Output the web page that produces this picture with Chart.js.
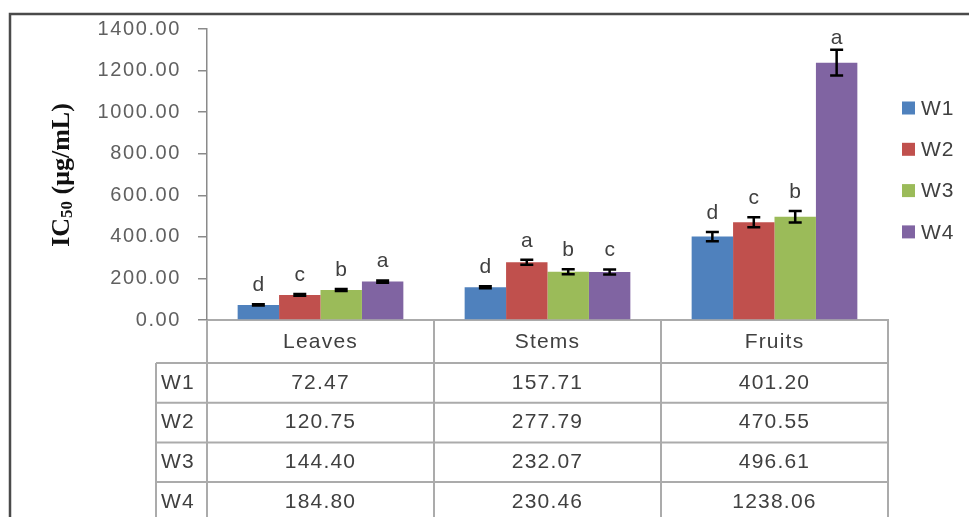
<!DOCTYPE html>
<html>
<head>
<meta charset="utf-8">
<script src="https://cdn.jsdelivr.net/npm/chart.js@4.4.0/dist/chart.umd.min.js"></script>
<style>
  html, body { margin: 0; padding: 0; background: #fff; }
  #wrap { position: relative; width: 969px; height: 517px; }
</style>
</head>
<body>
<div id="wrap"><canvas id="chartIC50" width="969" height="517"></canvas></div>
<script>
// Dados
const categorias = ["Leaves", "Stems", "Fruits"];
const series = ["W1", "W2", "W3", "W4"];
const valoresW1 = [72.47, 157.71, 401.2];
const valoresW2 = [120.75, 277.79, 470.55];
const valoresW3 = [144.4, 232.07, 496.61];
const valoresW4 = [184.8, 230.46, 1238.06];
const textosW1 = ["72.47", "157.71", "401.20"];
const textosW2 = ["120.75", "277.79", "470.55"];
const textosW3 = ["144.40", "232.07", "496.61"];
const textosW4 = ["184.80", "230.46", "1238.06"];
const errosW1 = [3, 5, 22];
const errosW2 = [4, 12, 24];
const errosW3 = [5, 12, 28];
const errosW4 = [5, 12, 62];
const letrasW1 = ["d", "d", "d"];
const letrasW2 = ["c", "a", "c"];
const letrasW3 = ["b", "b", "b"];
const letrasW4 = ["a", "c", "a"];
const ticksY = [0, 200, 400, 600, 800, 1000, 1200, 1400];

const valores = [valoresW1, valoresW2, valoresW3, valoresW4];
const textos = [textosW1, textosW2, textosW3, textosW4];
const erros = [errosW1, errosW2, errosW3, errosW4];
const letras = [letrasW1, letrasW2, letrasW3, letrasW4];
const cores = ["#4F81BD", "#C0504D", "#9BBB59", "#8064A2"];

const fonte = "'Liberation Sans', Arial, sans-serif";
const corTexto = "#404040";
const corLinha = "#ababab";

// Espaçamento das letras dos ticks (o original é mais largo)
const pluginEspaco = {
  id: "espaco",
  beforeDraw(chart) {
    chart.ctx.letterSpacing = "1.6px";
  },
  beforeDatasetsDraw(chart) {
    chart.ctx.letterSpacing = "0px";
  },
};

// Barras de erro + letras de significância
const pluginErros = {
  id: "erros",
  afterDatasetsDraw(chart) {
    const ctx = chart.ctx;
    const y = chart.scales.y;
    ctx.save();
    ctx.letterSpacing = "0px";
    valores.forEach((serie, i) => {
      const meta = chart.getDatasetMeta(i);
      meta.data.forEach((bar, j) => {
        const topo = y.getPixelForValue(serie[j] + erros[i][j]);
        const base = y.getPixelForValue(serie[j] - erros[i][j]);
        ctx.strokeStyle = "#000";
        ctx.lineWidth = 2.5;
        ctx.beginPath();
        ctx.moveTo(bar.x, topo);
        ctx.lineTo(bar.x, base);
        ctx.moveTo(bar.x - 6.5, topo);
        ctx.lineTo(bar.x + 6.5, topo);
        ctx.moveTo(bar.x - 6.5, base);
        ctx.lineTo(bar.x + 6.5, base);
        ctx.stroke();

        ctx.fillStyle = corTexto;
        ctx.font = "21px " + fonte;
        ctx.textAlign = "center";
        ctx.textBaseline = "middle";
        const yl = Math.max(topo - 19, chart.chartArea.top + 9);
        ctx.fillText(letras[i][j], bar.x, yl);
      });
    });
    ctx.restore();
  },
};

// Moldura, título do eixo, legenda e tabela de dados
const pluginExtras = {
  id: "extras",
  afterDraw(chart) {
    const ctx = chart.ctx;
    const area = chart.chartArea;
    const x = chart.scales.x;
    ctx.save();
    ctx.letterSpacing = "0px";

    // moldura
    ctx.strokeStyle = "#4a4a4a";
    ctx.lineWidth = 2.5;
    ctx.beginPath();
    ctx.moveTo(10, 517);
    ctx.lineTo(10, 14);
    ctx.lineTo(969, 14);
    ctx.stroke();

    // título do eixo Y: IC50 (µg/mL)
    ctx.translate(62, 175);
    ctx.rotate(-Math.PI / 2);
    ctx.fillStyle = "#111";
    ctx.textBaseline = "middle";
    ctx.textAlign = "left";
    const fTit = "bold 26px 'Liberation Serif', 'Times New Roman', serif";
    const fSub = "bold 17px 'Liberation Serif', 'Times New Roman', serif";
    ctx.font = fTit;
    const w1 = ctx.measureText("IC").width;
    ctx.font = fSub;
    const w2 = ctx.measureText("50").width;
    ctx.font = fTit;
    const w3 = ctx.measureText(" (μg/mL)").width;
    let px = -(w1 + w2 + w3) / 2;
    ctx.fillText("IC", px, 0);
    px += w1;
    ctx.font = fSub;
    ctx.fillText("50", px, 6);
    px += w2;
    ctx.font = fTit;
    ctx.fillText(" (μg/mL)", px, 0);
    ctx.setTransform(1, 0, 0, 1, 0, 0);

    // legenda
    ctx.font = "21px " + fonte;
    ctx.letterSpacing = "1px";
    ctx.textAlign = "left";
    ctx.textBaseline = "middle";
    series.forEach((s, i) => {
      const yc = 108 + i * 41.3;
      ctx.fillStyle = cores[i];
      ctx.fillRect(902, yc - 6.5, 13, 13);
      ctx.fillStyle = corTexto;
      ctx.fillText(s, 921, yc + 1);
    });

    // tabela
    const larg = x.width / categorias.length;
    const topoLinhas = area.bottom + 43;
    const altLinha = 39.7;
    const esq = 156;
    ctx.strokeStyle = corLinha;
    ctx.lineWidth = 2;
    ctx.beginPath();
    for (let k = 0; k <= categorias.length; k++) {
      const xv = area.left + k * larg;
      ctx.moveTo(xv, area.bottom);
      ctx.lineTo(xv, 517);
    }
    ctx.moveTo(esq, topoLinhas);
    ctx.lineTo(esq, 517);
    for (let r = 0; r < series.length; r++) {
      const yr = topoLinhas + r * altLinha;
      ctx.moveTo(esq, yr);
      ctx.lineTo(area.right, yr);
    }
    ctx.stroke();

    ctx.fillStyle = corTexto;
    ctx.font = "21px " + fonte;
    ctx.letterSpacing = "1.2px";
    ctx.textAlign = "center";
    ctx.textBaseline = "middle";
    categorias.forEach((c, j) => {
      ctx.fillText(c, x.getPixelForValue(j), area.bottom + 22);
    });
    series.forEach((s, i) => {
      const yc = topoLinhas + i * altLinha + altLinha / 2;
      ctx.textAlign = "left";
      ctx.fillText(s, 161, yc);
      ctx.textAlign = "center";
      textos[i].forEach((t, j) => {
        ctx.fillText(t, x.getPixelForValue(j), yc);
      });
    });

    ctx.restore();
  },
};

document.addEventListener("DOMContentLoaded", () => {
  const ctx = document.getElementById("chartIC50");
  new Chart(ctx.getContext("2d"), {
    type: "bar",
    data: {
      labels: categorias,
      datasets: series.map((s, i) => ({
        label: s,
        data: valores[i],
        backgroundColor: cores[i],
        borderWidth: 0,
        categoryPercentage: 0.73,
        barPercentage: 1.0,
      })),
    },
    options: {
      responsive: false,
      animation: false,
      devicePixelRatio: 1,
      layout: {
        padding: { left: 0, top: 29, right: 81, bottom: 197 },
      },
      plugins: {
        legend: { display: false },
        tooltip: { enabled: false },
      },
      scales: {
        x: {
          ticks: { display: false },
          grid: { display: false },
          border: { display: true, color: corLinha, width: 2 },
          afterFit: (scale) => {
            scale.height = 0;
          },
        },
        y: {
          min: 0,
          max: 1400,
          afterBuildTicks: (scale) => {
            scale.ticks = ticksY.map((v) => ({ value: v }));
          },
          ticks: {
            padding: 17,
            color: "#606060",
            font: { family: fonte, size: 20 },
            callback: (v) => Number(v).toFixed(2),
          },
          grid: {
            display: true,
            drawOnChartArea: false,
            drawTicks: true,
            tickLength: 9,
            color: "#8a8a8a",
            lineWidth: 1.5,
          },
          border: { display: true, color: "#8a8a8a", width: 1.5 },
          afterFit: (scale) => {
            scale.width = 207;
          },
        },
      },
    },
    plugins: [pluginEspaco, pluginErros, pluginExtras],
  });
});
</script>
</body>
</html>
